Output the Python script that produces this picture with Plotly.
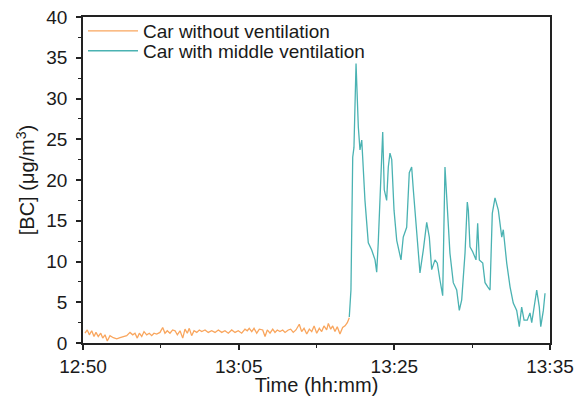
import plotly.graph_objects as go

# Time in minutes after 12:50
no_vent_time = [0.19, 0.41, 0.61, 0.84, 1.06, 1.25, 1.47, 1.71, 1.90, 2.12, 2.34, 2.60, 2.92, 3.25, 3.57,
                3.88, 4.21, 4.53, 4.79, 5.01, 5.23, 5.43, 5.66, 5.88, 6.14, 6.39, 6.62, 6.84, 7.10, 7.42,
                7.68, 7.90, 8.12, 8.38, 8.64, 8.87, 9.09, 9.35, 9.61, 9.83, 10.05, 10.24, 10.47, 10.70,
                10.96, 11.21, 11.44, 11.76, 12.07, 12.40, 12.72, 13.04, 13.37, 13.68, 14.00, 14.33,
                14.65, 14.96, 15.29, 15.61, 15.83, 16.02, 16.26, 16.48, 16.74, 16.99, 17.32, 17.54,
                17.76, 18.02, 18.28, 18.50, 18.72, 18.98, 19.24, 19.47, 19.78, 20.01, 20.26, 20.52,
                20.84, 21.07, 21.30, 21.56, 21.81, 22.04, 22.27, 22.52, 22.77, 23.00, 23.22, 23.48,
                23.64, 23.87, 24.06, 24.28, 24.50, 24.76, 25.02, 25.25, 25.47, 25.66]
no_vent_bc = [1.2, 1.6, 1.0, 1.5, 0.8, 1.3, 0.8, 1.2, 0.6, 1.0, 0.25, 0.9, 0.65, 0.5, 0.65,
              0.8, 0.9, 1.3, 1.0, 1.2, 0.6, 1.2, 0.8, 1.4, 1.0, 1.2, 0.9, 1.2, 1.1, 1.3,
              1.9, 1.2, 1.5, 1.2, 1.6, 1.5, 1.0, 1.5, 0.6, 1.7, 1.2, 1.8, 0.9, 1.5,
              1.3, 1.6, 1.4, 1.6, 1.3, 1.5, 1.3, 1.6, 1.3, 1.5, 1.2, 1.6,
              1.3, 1.5, 1.2, 1.7, 1.5, 1.8, 1.4, 1.8, 1.2, 1.7, 1.6, 0.8,
              1.6, 1.2, 1.7, 1.3, 1.6, 1.4, 1.6, 1.3, 1.6, 1.7, 1.3, 1.6,
              2.3, 1.4, 1.8, 1.1, 1.7, 1.4, 2.1, 1.2, 1.8, 1.4, 2.1, 1.6,
              2.4, 1.7, 2.1, 1.4, 2.0, 1.1, 1.9, 2.1, 2.5, 3.1]

mid_vent_time = [25.66, 25.82, 25.99, 26.11, 26.31, 26.37, 26.53, 26.69, 26.86, 26.95, 27.17, 27.49,
                 27.82, 28.14, 28.30, 28.45, 28.69, 28.88, 29.03, 29.26, 29.42, 29.58, 29.75, 29.97,
                 30.23, 30.55, 30.64, 30.86, 31.19, 31.44, 31.67, 31.83, 32.16, 32.47, 32.79, 33.12,
                 33.37, 33.60, 33.92, 34.14, 34.40, 34.66, 34.88, 35.05, 35.36, 35.68, 36.01, 36.26,
                 36.49, 36.81, 37.03, 37.13, 37.29, 37.55, 37.87, 38.03, 38.19, 38.52, 38.74, 39.00,
                 39.22, 39.44, 39.70, 40.02, 40.35, 40.50, 40.83, 41.15, 41.46, 41.79, 42.04, 42.27,
                 42.50, 42.81, 43.07, 43.24, 43.56, 43.72, 43.97, 44.11, 44.36, 44.52]
mid_vent_bc = [3.2, 6.5, 22.8, 24.0, 34.3, 31.9, 26.5, 23.7, 24.9, 22.8, 17.5, 12.3,
               11.4, 10.2, 8.7, 12.3, 19.6, 25.9, 18.8, 17.5, 21.6, 23.3, 22.5, 16.3,
               12.6, 11.0, 10.2, 13.0, 14.2, 20.9, 21.6, 18.8, 13.0, 8.6, 11.4, 14.8,
               13.0, 9.0, 10.2, 9.8, 7.7, 5.8, 21.6, 17.2, 11.0, 7.4, 6.5, 4.0,
               5.3, 11.0, 17.3, 16.3, 11.8, 11.2, 10.2, 14.7, 10.2, 9.8, 7.4, 6.9,
               6.5, 15.9, 17.8, 16.3, 13.0, 13.9, 9.8, 6.9, 4.9, 4.0, 2.0, 4.4,
               2.8, 2.8, 3.7, 2.5, 5.6, 6.5, 4.4, 2.0, 4.0, 6.1]

x_tick_vals = [0, 15, 30, 45]
x_tick_text = ["12:50", "13:05", "13:25", "13:35"]
x_minor_vals = [7.5, 22.5, 37.5]

FONT = "Liberation Sans, Arial, sans-serif"
TXT = "#1a1a1a"

fig = go.Figure()
fig.add_trace(go.Scatter(x=no_vent_time, y=no_vent_bc, mode="lines", name="Car without ventilation",
                         line=dict(color="#F9A65E", width=1.3), legend="legend"))
fig.add_trace(go.Scatter(x=mid_vent_time, y=mid_vent_bc, mode="lines", name="Car with middle ventilation",
                         line=dict(color="#4AB2B2", width=1.3), legend="legend2"))

legend_common = dict(xanchor="left", yanchor="middle", bgcolor="rgba(0,0,0,0)", borderwidth=0,
                     font=dict(family=FONT, size=19, color=TXT), itemwidth=50)

fig.update_layout(
    width=577, height=396,
    margin=dict(l=83, r=27, t=17, b=53, autoexpand=False),
    paper_bgcolor="white", plot_bgcolor="white",
    font=dict(family=FONT, color=TXT),
    showlegend=True,
    legend=dict(x=0.0, y=0.957, **legend_common),
    legend2=dict(x=0.0, y=0.896, **legend_common),
    xaxis=dict(
        range=[0, 45], tickmode="array", tickvals=x_tick_vals, ticktext=x_tick_text,
        ticks="outside", ticklen=5, tickwidth=1.5, tickcolor="#222",
        minor=dict(tickvals=x_minor_vals, ticks="outside", ticklen=3, tickwidth=1.2, tickcolor="#222"),
        showline=True, linecolor="#222", linewidth=1.5, mirror=True,
        showgrid=False, zeroline=False, automargin=False,
        tickfont=dict(family=FONT, size=19, color=TXT),
        title=dict(text="Time (hh:mm)", font=dict(family=FONT, size=20, color=TXT), standoff=2),
    ),
    yaxis=dict(
        range=[0, 40], tickmode="linear", tick0=0, dtick=5,
        ticks="outside", ticklen=5, tickwidth=1.5, tickcolor="#222",
        minor=dict(dtick=2.5, tick0=0, ticks="outside", ticklen=3, tickwidth=1.2, tickcolor="#222"),
        showline=True, linecolor="#222", linewidth=1.5, mirror=True,
        showgrid=False, zeroline=False, automargin=False,
        ticklabelstandoff=5,
        tickfont=dict(family=FONT, size=19, color=TXT),
        title=dict(text="[BC] (μg/m<sup>3</sup>)", font=dict(family=FONT, size=20, color=TXT), standoff=6),
    ),
)

fig.write_html("out.html")
